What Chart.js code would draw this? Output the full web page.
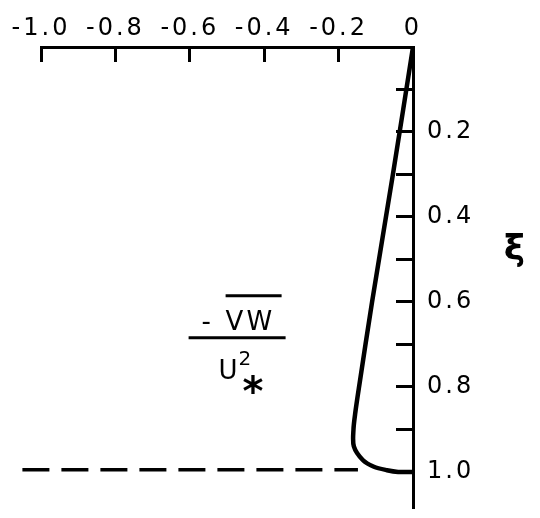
<!DOCTYPE html>
<html>
<head>
<meta charset="utf-8">
<script src="https://cdn.jsdelivr.net/npm/chart.js@4"></script>
<style>
  html, body { margin: 0; padding: 0; background: #fff; overflow: hidden; }
  canvas { display: block; }
</style>
</head>
<body>
<canvas id="chart" width="540" height="518"></canvas>
<script>
// profile of -vw/u*^2 against xi
const xiValues = [0, 0.3, 0.6, 0.8, 0.86, 0.9, 0.94, 0.972, 0.988, 0.996, 1.0, 1.0];
const stressValues = [0, -0.054, -0.11, -0.145, -0.155, -0.16, -0.159, -0.135, -0.105, -0.07, -0.04, 0];

// dashed reference line at xi = 1
const dashX = [-1.05, -0.148];
const dashY = [0.995, 0.995];

const xTickLabels = ['-1.0', '-0.8', '-0.6', '-0.4', '-0.2', '0'];
const xTickValues = [-1.0, -0.8, -0.6, -0.4, -0.2, 0];
const yTickLabels = ['0.2', '0.4', '0.6', '0.8', '1.0'];
const yTickValues = [0.2, 0.4, 0.6, 0.8, 1.0];

const font = "'DejaVu Sans', sans-serif";

// wider lettering, like the stencil text of the original
const spacingPlugin = {
  id: 'spacing',
  beforeDraw(chart) { chart.ctx.letterSpacing = '3px'; }
};

const labelPlugin = {
  id: 'labels',
  afterDraw(chart) {
    const ctx = chart.ctx;
    const x = chart.scales.x, y = chart.scales.y;
    ctx.save();
    ctx.letterSpacing = '3px';
    ctx.fillStyle = '#000';
    ctx.strokeStyle = '#000';
    ctx.textBaseline = 'middle';
    ctx.textAlign = 'left';

    // fraction  -vw / u*^2
    const cx = x.getPixelForValue(-0.45);
    const cy = y.getPixelForValue(0.682);
    ctx.font = '26px ' + font;
    ctx.fillText('-', cx - 44, cy - 14);
    ctx.fillText('VW', cx - 20, cy - 14);
    ctx.lineWidth = 3;
    ctx.beginPath();
    ctx.moveTo(cx - 20, cy - 41); ctx.lineTo(cx + 36, cy - 41);
    ctx.moveTo(cx - 57, cy + 1); ctx.lineTo(cx + 40, cy + 1);
    ctx.stroke();
    ctx.fillText('U', cx - 27, cy + 35);
    ctx.font = '20px ' + font;
    ctx.fillText('2', cx - 7, cy + 23);
    ctx.font = 'bold 40px ' + font;
    ctx.fillText('*', cx - 3, cy + 58);

    // axis title xi
    ctx.font = 'bold 36px ' + font;
    ctx.textAlign = 'center';
    ctx.fillText('ξ', 516, y.getPixelForValue(0.48));
    ctx.restore();
  }
};

new Chart(document.getElementById('chart'), {
  type: 'line',
  data: {
    datasets: [
      {
        data: xiValues.map((v, i) => ({ x: stressValues[i], y: v })),
        borderColor: '#000',
        borderWidth: 4.5,
        pointRadius: 0,
        tension: 0.3,
        fill: false
      },
      {
        data: dashX.map((v, i) => ({ x: v, y: dashY[i] })),
        borderColor: '#000',
        borderWidth: 3.5,
        borderDash: [27, 12],
        pointRadius: 0,
        clip: false,
        fill: false
      }
    ]
  },
  options: {
    responsive: false,
    animation: false,
    layout: { padding: { left: 41, right: 0, top: 0, bottom: 10 } },
    plugins: { legend: { display: false }, tooltip: { enabled: false } },
    scales: {
      x: {
        type: 'linear',
        position: 'top',
        min: -1.0,
        max: 0,
        afterFit(scale) {
          scale.height = 47;
          scale.paddingLeft = 0;
          scale.paddingRight = 0;
        },
        afterBuildTicks(scale) {
          scale.ticks = xTickValues.map(v => ({ value: v }));
        },
        ticks: {
          color: '#000',
          font: { family: font, size: 24 },
          padding: 19,
          maxRotation: 0,
          autoSkip: false,
          callback(v) {
            const i = xTickValues.findIndex(t => Math.abs(t - v) < 1e-6);
            return i >= 0 ? xTickLabels[i] : '';
          }
        },
        grid: {
          drawOnChartArea: false,
          tickLength: -15,
          tickWidth: 3,
          tickColor: '#000'
        },
        border: { color: '#000', width: 3 }
      },
      y: {
        type: 'linear',
        position: 'right',
        reverse: true,
        min: 0,
        max: 1.085,
        bounds: 'data',
        afterFit(scale) {
          scale.width = 127;
          scale.paddingTop = 0;
          scale.paddingBottom = 0;
        },
        ticks: {
          stepSize: 0.1,
          includeBounds: false,
          color: '#000',
          font: { family: font, size: 24 },
          padding: 31,
          autoSkip: false,
          callback(v) {
            const i = yTickValues.findIndex(t => Math.abs(t - v) < 1e-6);
            return i >= 0 ? yTickLabels[i] : '';
          }
        },
        grid: {
          drawOnChartArea: false,
          tickLength: -17,
          tickWidth: 3,
          tickColor: '#000'
        },
        border: { color: '#000', width: 3 }
      }
    }
  },
  plugins: [spacingPlugin, labelPlugin]
});
</script>
</body>
</html>
